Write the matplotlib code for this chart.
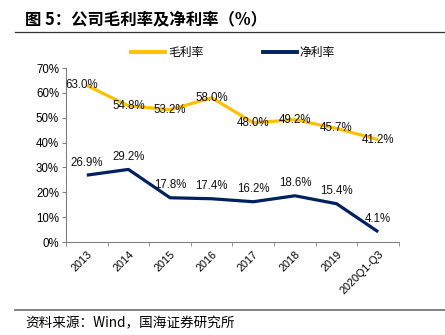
import matplotlib
matplotlib.use("Agg")
import matplotlib.pyplot as plt
from matplotlib.lines import Line2D
from matplotlib.ticker import FixedLocator, PercentFormatter

plt.rcParams['font.family'] = ['Liberation Sans', 'Noto Sans CJK SC', 'DejaVu Sans']

# data
years = ["2013", "2014", "2015", "2016", "2017", "2018", "2019", "2020Q1-Q3"]
gross_margin = [63.0, 54.8, 53.2, 58.0, 48.0, 49.2, 45.7, 41.2]
net_margin = [26.9, 29.2, 17.8, 17.4, 16.2, 18.6, 15.4, 4.1]

gold = "#FFC000"
navy = "#002060"
grey = "#808080"

fig = plt.figure(figsize=(4.45, 3.35), dpi=100)
ax = fig.add_axes([0.1483, 0.2776, 0.7483, 0.5194])

x = list(range(len(years)))
ax.plot(x, gross_margin, color=gold, lw=2.3, solid_capstyle="butt", zorder=3)
ax.plot(x, net_margin, color=navy, lw=2.3, solid_capstyle="butt", zorder=3)

# value labels
for i, v in enumerate(gross_margin):
    dx = -4 if i == 0 else 0
    ax.annotate(f"{v:.1f}%", (i, v), xytext=(dx, 0), textcoords="offset points",
                ha="center", va="center", fontsize=8.3, color="#111111", zorder=4)
for i, v in enumerate(net_margin):
    ax.annotate(f"{v:.1f}%", (i, v), xytext=(0, 9), textcoords="offset points",
                ha="center", va="center", fontsize=8.3, color="#111111", zorder=4)

ax.set_xlim(-0.5, len(years) - 0.5)
ax.set_ylim(0, 70)
ax.set_yticks(range(0, 71, 10))
ax.yaxis.set_major_formatter(PercentFormatter(decimals=0))

ax.set_xticks(x)
ax.set_xticklabels(years, rotation=45, ha="right", rotation_mode="anchor")
ax.xaxis.set_minor_locator(FixedLocator([i - 0.5 for i in range(len(years) + 1)]))
ax.tick_params(axis="x", which="major", length=0, pad=5, labelsize=7.8)
ax.tick_params(axis="x", which="minor", length=3, color=grey, direction="out")
ax.tick_params(axis="y", length=3, color=grey, labelsize=8.3, pad=2)

for side in ["top", "right"]:
    ax.spines[side].set_visible(False)
for side in ["left", "bottom"]:
    ax.spines[side].set_color(grey)
    ax.spines[side].set_linewidth(0.8)

handles = [Line2D([], [], color=gold, lw=2.8), Line2D([], [], color=navy, lw=2.8)]
fig.legend(handles, ["毛利率", "净利率"], loc="center", bbox_to_anchor=(0.524, 0.842),
           ncol=2, frameon=False, fontsize=8.5, handlelength=2.9, handletextpad=0.25,
           columnspacing=5.0, borderpad=0.2)

# header and footer
fig.text(0.056, 0.943, "图 5：公司毛利率及净利率（%）", fontsize=11.8, fontweight="bold",
         ha="left", va="center", family=["Noto Sans CJK SC", "DejaVu Sans"])
fig.add_artist(Line2D([0.034, 1.0], [0.904, 0.904], color="#333333", lw=0.9))
fig.add_artist(Line2D([0.034, 1.0], [0.075, 0.075], color="#777777", lw=1.3))
fig.text(0.056, 0.036, "资料来源：Wind，国海证券研究所", fontsize=9.8, ha="left", va="center",
         family=["Noto Sans CJK SC", "DejaVu Sans"])

fig.savefig("out.png", dpi=100)
